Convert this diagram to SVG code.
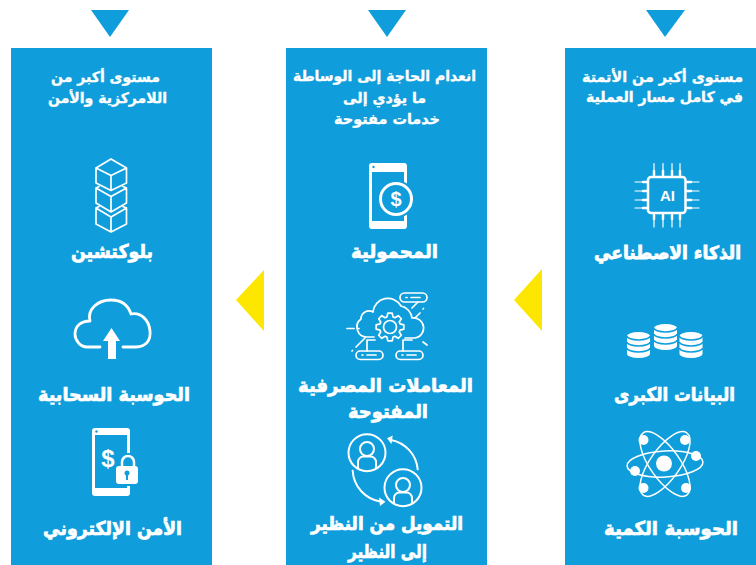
<svg xmlns="http://www.w3.org/2000/svg" width="756" height="565" viewBox="0 0 756 565">
<style>
.p{fill:#0f9edb}
.y{fill:#fde600}
.t{font-family:"DejaVu Sans","Noto Sans",sans-serif;font-weight:700;fill:#fff;stroke:#fff;text-anchor:middle;direction:rtl}
.h{font-size:14.500px;stroke-width:.35px}
.l{font-size:19px;stroke-width:.7px}
.m{font-size:18px;stroke-width:.8px}
.s{fill:none;stroke:#fff;stroke-linecap:round;stroke-linejoin:round}
.f{fill:#fff}
.g{font-family:"Liberation Sans",sans-serif;font-weight:700;fill:#fff;text-anchor:middle}
</style>
<rect width="756" height="565" fill="#fff"/>
<g id="connectors">
<polygon class="y" points="514,300 542,269 542,331"/>
<polygon class="y" points="236,300 264,270 264,331"/>
<polygon class="p" points="646,10 685,10 665,37"/>
<polygon class="p" points="368,10 406,10 387,37"/>
<polygon class="p" points="91,10 129,10 110,37"/>
</g>
<g id="col-right">
<rect class="p" x="565" y="48" width="191" height="517"/>
<text class="t h" x="662.500" y="82" textLength="161" lengthAdjust="spacingAndGlyphs">مستوى أكبر من الأتمتة</text>
<text class="t h" x="664.500" y="102" textLength="157" lengthAdjust="spacingAndGlyphs">في كامل مسار العملية</text>
<g id="ai">
<rect class="s" x="648" y="177" width="37.500" height="36" rx="3" stroke-width="2.500"/>
<path class="s" stroke-width="1.200" d="M654 175V163.500M663 175V163.500M672 175V163.500M680 175V163.500M654 215V227M663 215V227M672 215V227M680 215V227M647 182H635M647 191H635M647 200H635M647 208H635M687 182H699M687 191H699M687 200H699M687 208H699"/>
<path class="s" stroke-width="2.500" stroke-linecap="butt" d="M654 175V171M663 175V171M672 175V171M680 175V171M654 215V219M663 215V219M672 215V219M680 215V219M647 182H643M647 191H643M647 200H643M647 208H643M687 182H691M687 191H691M687 200H691M687 208H691"/>
<text class="g" x="667.500" y="201" font-size="15">AI</text>
<text class="t m" x="667.500" y="259" textLength="147" lengthAdjust="spacingAndGlyphs">الذكاء الاصطناعي</text>
</g>
<g id="bigdata">
<path class="f" d="M627 336a11.500 4 0 0 1 23 0v18a11.500 4 0 0 1-23 0zM654 328a11.500 4 0 0 1 23 0v18a11.500 4 0 0 1-23 0zM679.500 336a11.500 4 0 0 1 23 0v18a11.500 4 0 0 1-23 0z"/>
<path fill="none" stroke="#0f9edb" stroke-width="1.500" d="M627 336a11.500 4 0 0 0 23 0M627 342a11.500 4 0 0 0 23 0M627 348a11.500 4 0 0 0 23 0M654 328a11.500 4 0 0 0 23 0M654 334a11.500 4 0 0 0 23 0M654 340a11.500 4 0 0 0 23 0M679.500 336a11.500 4 0 0 0 23 0M679.500 342a11.500 4 0 0 0 23 0M679.500 348a11.500 4 0 0 0 23 0"/>
<text class="t l" x="674.500" y="401" textLength="121" lengthAdjust="spacingAndGlyphs">البيانات الكبرى</text>
</g>
<g id="quantum">
<g fill="none" stroke="#fff" stroke-width="1.500">
<ellipse cx="665" cy="464" rx="38" ry="13" transform="rotate(-3 665 464)"/>
<ellipse cx="665" cy="464" rx="38" ry="15" transform="rotate(55 665 464)"/>
<ellipse cx="665" cy="464" rx="38" ry="15" transform="rotate(-55 665 464)"/>
</g>
<g class="f"><circle cx="664" cy="463.500" r="8"/><circle cx="643.500" cy="440" r="5"/><circle cx="685" cy="440" r="5"/><circle cx="696" cy="456" r="5"/><circle cx="635" cy="471" r="5"/><circle cx="643.500" cy="488" r="5"/><circle cx="686" cy="488" r="5"/></g>
<text class="t l" x="671" y="535" textLength="134" lengthAdjust="spacingAndGlyphs">الحوسبة الكمية</text>
</g>
</g>
<g id="col-middle">
<rect class="p" x="286" y="48" width="201" height="517"/>
<text class="t h" x="384.500" y="81" textLength="183" lengthAdjust="spacingAndGlyphs">انعدام الحاجة إلى الوساطة</text>
<text class="t h" x="384.500" y="103" textLength="83" lengthAdjust="spacingAndGlyphs">ما يؤدي إلى</text>
<text class="t h" x="387" y="124" textLength="106" lengthAdjust="spacingAndGlyphs">خدمات مفتوحة</text>
<g id="mobile">
<rect class="f" x="369" y="163" width="38" height="66" rx="3"/>
<rect class="p" x="372" y="172" width="32" height="49"/>
<circle cx="373.500" cy="167" r="1.200" fill="#0f9edb"/>
<circle cx="396" cy="199" r="19" fill="#0f9edb"/>
<circle class="s" cx="396" cy="199" r="15.500" stroke-width="3"/>
<text class="g" x="396" y="206" font-size="20">$</text>
<text class="t l" x="394.500" y="258" textLength="87" lengthAdjust="spacingAndGlyphs">المحمولية</text>
</g>
<g id="banking">
<g class="s" stroke-width="1.700">
<path d="M374 337H367A10 10 0 0 1 361 319A8 8 0 0 1 373 312A15 15 0 0 1 401 306A14 14 0 0 1 412 318A10 10 0 0 1 415 338H405"/>
<polygon transform="translate(390 327)" points="10.040,-3.070 13.830,-2.190 13.830,2.190 10.040,3.070 9.270,4.930 11.330,8.230 8.230,11.330 4.930,9.270 3.070,10.040 2.190,13.830 -2.190,13.830 -3.070,10.040 -4.930,9.270 -8.230,11.330 -11.330,8.230 -9.270,4.930 -10.040,3.070 -13.830,2.190 -13.830,-2.190 -10.040,-3.070 -9.270,-4.930 -11.330,-8.230 -8.230,-11.330 -4.930,-9.270 -3.070,-10.040 -2.190,-13.830 2.190,-13.830 3.070,-10.040 4.930,-9.270 8.230,-11.330 11.330,-8.230 9.270,-4.930"/>
<circle cx="390" cy="327" r="6.500"/>
<rect x="400" y="293" width="27" height="9" rx="4.500"/>
<rect x="356" y="351" width="27" height="8.500" rx="4.200"/>
<rect x="396" y="351" width="27" height="8.500" rx="4.200"/>
<path d="M347 328.500H354M357.500 328.500H359M365 338L356 347M352 351L352.500 350.500M367 351V340H375M403 351V340H412M423 342L427 345M418 302L412 308M420 313L415 318M423 309L423.500 308.500"/>
<path d="M406 297.500H407M411 297.500H420M362 355H363M367 355H376M402 355H403M407 355H416"/>
</g>
<text class="t l" x="385.500" y="392" textLength="175" lengthAdjust="spacingAndGlyphs">المعاملات المصرفية</text>
<text class="t l" x="388" y="418" textLength="80" lengthAdjust="spacingAndGlyphs">المفتوحة</text>
</g>
<g id="p2p">
<g class="s" stroke-width="2">
<circle cx="367" cy="452.700" r="18.500"/>
<circle cx="403" cy="487.700" r="18.500"/>
<circle cx="367" cy="449" r="7"/>
<path d="M358 468V462A5.500 5.500 0 0 1 363.500 456.500H370.500A5.500 5.500 0 0 1 376 462V468"/>
<circle cx="403" cy="485" r="7"/>
<path d="M394 503V498A5.500 5.500 0 0 1 399.500 492.500H406.500A5.500 5.500 0 0 1 412 498V503"/>
<path d="M417.700 469.300A33 33 0 0 0 391 440"/>
<path d="M352.700 470.700A33 33 0 0 0 381 501.700"/>
</g>
<path class="f" d="M387 438.300L392.700 435.500L391.500 444zM385.500 501.700L379 497.500L380 506z"/>
<text class="t l" x="387" y="530" textLength="152" lengthAdjust="spacingAndGlyphs">التمويل من النظير</text>
<text class="t l" x="387.500" y="558" textLength="79" lengthAdjust="spacingAndGlyphs">إلى النظير</text>
</g>
</g>
<g id="col-left">
<rect class="p" x="11" y="48" width="201" height="517"/>
<text class="t h" x="105.500" y="82" textLength="109" lengthAdjust="spacingAndGlyphs">مستوى أكبر من</text>
<text class="t h" x="107.500" y="103" textLength="119" lengthAdjust="spacingAndGlyphs">اللامركزية والأمن</text>
<g id="blockchain">
<g class="s" stroke-width="1.700">
<path d="M111 159L126.500 168V183L111 190.500L96 183V168ZM96 168L111 175.500V190.500M126.500 168L111 175.500"/>
<path d="M99 186.500L96 188V203L111 212L126.500 203V188L123 186.500M96 188L111 196.500L126.500 188M111 196.500V212"/>
<path d="M99 206.500L96 208V224L111 232L126.500 224V208L123 206.500M96 208L111 217L126.500 208M111 217V232"/>
</g>
<text class="t l" x="112" y="258" textLength="82" lengthAdjust="spacingAndGlyphs">بلوكتشين</text>
</g>
<g id="cloud">
<path class="s" stroke-width="2.800" d="M100 347H87C80 347 75 340 75 334C75 326 81 321 90 321C87 309 98 300 111 300C121 300 128 305 131 314C141 312 149 320 150 331C151 340 146 347 136 347H123"/>
<path class="f" d="M108 359V341H103L111.500 328L120 341H116V359z"/>
<text class="t l" x="114" y="401" textLength="152" lengthAdjust="spacingAndGlyphs">الحوسبة السحابية</text>
</g>
<g id="security">
<path class="f" d="M95 428H127A3 3 0 0 1 130 431V453H127V435H95V488H127V486H130V493A3 3 0 0 1 127 496H95A3 3 0 0 1 92 493V431A3 3 0 0 1 95 428Z"/>
<circle cx="96.500" cy="431.500" r="1.200" fill="#0f9edb"/>
<text class="g" x="108" y="467" font-size="24">$</text>
<path class="s" stroke-width="2.500" stroke-linecap="butt" d="M122 467V462A5.500 5.500 0 0 1 134 462V467"/>
<rect class="f" x="116" y="466" width="22" height="18" rx="3"/>
<circle cx="127" cy="473" r="2.500" fill="#0f9edb"/><rect x="126" y="474" width="2" height="6" fill="#0f9edb"/>
<text class="t l" x="112.500" y="535" textLength="139" lengthAdjust="spacingAndGlyphs">الأمن الإلكتروني</text>
</g>
</g>
</svg>
